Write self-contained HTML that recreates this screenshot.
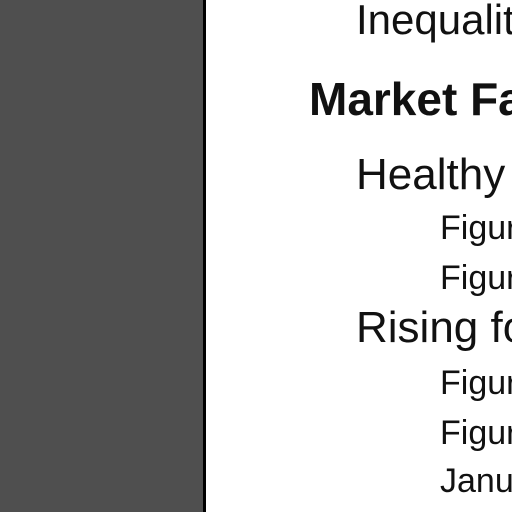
<!DOCTYPE html>
<html><head><meta charset="utf-8"><style>
html,body{margin:0;padding:0;width:512px;height:512px;overflow:hidden;background:#fff;}
#clip{position:absolute;left:0;top:0;width:512px;height:512px;overflow:hidden;}
.t{position:absolute;white-space:nowrap;line-height:1;font-family:"Liberation Sans",Arial,sans-serif;color:#111;}
</style></head><body>
<div id="clip">
<div style="position:absolute;left:0;top:0;width:203px;height:512px;background:#4f4f4f;"></div>
<div style="position:absolute;left:203px;top:0;width:3px;height:512px;background:#000;"></div>
<div class="t" style="left:356px;top:-1px;font-size:42px;">Inequalit</div>
<div class="t" style="left:309px;top:76px;font-size:46px;font-weight:bold;">Market Fa</div>
<div class="t" style="left:356px;top:153px;font-size:44px;">Healthy c</div>
<div class="t" style="left:440px;top:211px;font-size:34px;">Figur</div>
<div class="t" style="left:440px;top:261px;font-size:34px;">Figur</div>
<div class="t" style="left:356px;top:306px;font-size:44px;">Rising fo</div>
<div class="t" style="left:440px;top:366px;font-size:34px;">Figur</div>
<div class="t" style="left:440px;top:416px;font-size:34px;">Figur</div>
<div class="t" style="left:440px;top:464px;font-size:34px;">Janu</div>
</div>
</body></html>
